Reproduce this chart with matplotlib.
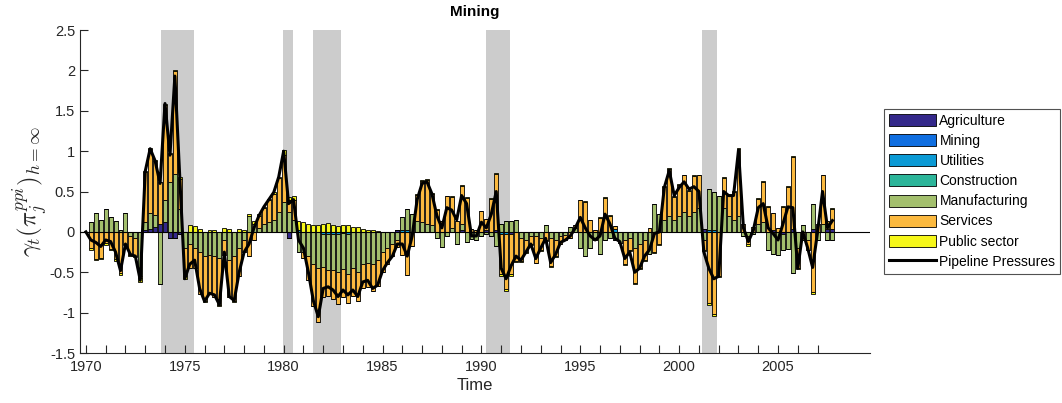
import numpy as np
import matplotlib.pyplot as plt
from matplotlib.patches import Patch
from matplotlib.lines import Line2D

plt.rcParams['font.family'] = ['Liberation Sans', 'DejaVu Sans']
plt.rcParams['mathtext.fontset'] = 'cm'

# quarterly dates, 1970Q1 .. 2007Q4
dates = np.arange(1970, 2008, 0.25)

# sector contributions, two years (8 quarters) per row
agriculture = [
    0.00, 0.00, 0.00, 0.00, 0.00, 0.00, 0.00, 0.00,
    0.00, 0.00, 0.00, 0.00, 0.02, 0.03, 0.06, 0.10,
    0.12, -0.08, -0.08, -0.03, 0.00, 0.00, 0.00, 0.00,
    0.00, 0.00, 0.00, 0.00, 0.00, 0.00, 0.00, 0.00,
    0.00, 0.00, 0.00, 0.00, 0.00, 0.00, 0.00, 0.00,
    0.00, -0.07, 0.00, 0.00, 0.00, 0.00, 0.00, 0.00,
    0.00, 0.00, 0.00, 0.00, 0.00, 0.00, 0.00, 0.00,
    0.00, 0.00, 0.00, 0.00, 0.00, 0.00, 0.00, 0.02,
    0.00, 0.00, 0.00, 0.00, 0.00, 0.00, 0.00, 0.00,
    0.00, 0.00, 0.00, 0.00, 0.02, 0.00, 0.00, 0.00,
    0.00, 0.02, 0.00, 0.02, 0.00, 0.00, -0.02, 0.00,
    0.00, 0.00, 0.00, 0.00, 0.00, 0.00, 0.00, 0.00,
    0.00, 0.00, 0.00, 0.00, 0.00, 0.00, 0.00, 0.00,
    0.00, 0.00, 0.00, 0.00, 0.00, 0.00, 0.00, 0.00,
    0.00, 0.00, 0.00, 0.00, 0.00, 0.00, 0.00, 0.00,
    0.00, 0.00, 0.00, 0.00, 0.00, 0.03, 0.00, 0.00,
    0.00, 0.00, 0.00, 0.00, 0.00, 0.00, 0.00, 0.00,
    0.00, 0.00, 0.00, 0.02, 0.00, -0.02, 0.00, 0.03,
    0.00, 0.00, 0.00, 0.03, 0.00, 0.00, 0.03, 0.03,
]
utilities = [
    0.00, 0.00, 0.00, 0.00, 0.00, 0.00, 0.00, 0.00,
    0.00, 0.00, 0.00, 0.00, 0.00, 0.00, 0.00, 0.00,
    0.00, 0.00, 0.00, 0.00, 0.00, 0.00, 0.00, 0.00,
    0.00, 0.00, 0.00, 0.00, 0.00, 0.00, 0.00, 0.00,
    0.00, 0.00, 0.00, 0.00, 0.00, 0.00, 0.00, 0.00,
    0.00, 0.00, 0.00, 0.02, 0.00, 0.00, 0.00, 0.00,
    -0.02, -0.02, -0.02, -0.02, -0.01, -0.02, 0.00, 0.00,
    0.00, 0.00, 0.00, 0.00, 0.00, 0.00, 0.00, 0.00,
    0.02, 0.02, 0.00, 0.00, 0.00, 0.00, 0.00, 0.00,
    0.00, 0.00, 0.00, 0.00, 0.00, 0.00, 0.00, 0.00,
    0.00, 0.00, 0.00, 0.00, -0.02, -0.02, 0.00, 0.00,
    0.00, 0.00, 0.00, 0.00, 0.00, 0.00, 0.00, 0.00,
    0.00, 0.00, 0.00, 0.00, 0.00, 0.00, 0.00, 0.00,
    0.00, 0.00, 0.00, 0.04, 0.00, 0.00, 0.00, 0.00,
    0.00, 0.00, 0.00, 0.00, 0.00, 0.00, 0.00, 0.00,
    0.00, 0.00, 0.00, 0.00, 0.00, 0.00, 0.02, 0.02,
    0.00, 0.00, 0.00, 0.00, 0.00, 0.00, 0.00, 0.00,
    0.00, 0.00, 0.00, 0.00, 0.00, 0.00, 0.00, 0.00,
    0.00, 0.00, 0.00, 0.00, 0.00, 0.00, 0.00, 0.00,
]
manufacturing = [
    0.00, 0.12, 0.23, 0.15, 0.28, 0.19, 0.13, 0.02,
    0.24, -0.05, -0.08, -0.55, 0.10, 0.20, 0.15, -0.65,
    0.27, 0.62, 0.72, 0.28, -0.20, -0.15, -0.20, -0.25,
    -0.30, -0.28, -0.30, -0.32, -0.10, -0.35, -0.30, -0.20,
    -0.10, 0.20, 0.10, 0.05, 0.10, 0.12, 0.15, 0.25,
    0.37, 0.25, 0.15, -0.25, -0.25, -0.30, -0.40, -0.45,
    -0.42, -0.45, -0.45, -0.48, -0.45, -0.50, -0.45, -0.50,
    -0.40, -0.38, -0.40, -0.35, -0.25, -0.20, -0.15, -0.10,
    0.16, 0.26, 0.22, 0.14, 0.12, 0.10, 0.08, -0.07,
    -0.19, -0.05, 0.05, -0.15, 0.08, -0.13, -0.09, -0.10,
    -0.05, -0.03, -0.05, -0.18, 0.10, 0.14, 0.13, 0.15,
    -0.08, -0.10, -0.05, -0.05, -0.08, 0.08, -0.08, -0.10,
    -0.05, -0.04, 0.06, 0.05, -0.20, -0.30, -0.20, -0.10,
    -0.27, -0.10, -0.07, -0.10, -0.14, -0.10, -0.08, -0.20,
    -0.15, -0.10, -0.27, 0.34, 0.22, 0.15, 0.20, 0.15,
    0.20, 0.25, 0.20, 0.25, 0.30, -0.10, 0.51, 0.48,
    0.45, 0.30, 0.20, 0.15, 0.20, -0.05, -0.05, -0.03,
    0.10, 0.12, -0.23, -0.27, -0.29, -0.21, -0.21, -0.51,
    -0.20, 0.08, -0.10, 0.31, -0.10, 0.10, -0.10, -0.10,
]
services = [
    0.00, -0.20, -0.33, -0.32, -0.14, -0.21, -0.34, -0.51,
    -0.15, -0.24, -0.22, -0.02, 0.62, 0.80, 0.67, 0.52,
    1.18, 0.35, 1.27, 0.38, -0.35, -0.30, -0.25, -0.52,
    -0.55, -0.48, -0.50, -0.58, -0.18, -0.45, -0.55, -0.35,
    -0.15, -0.30, -0.10, 0.15, 0.20, 0.27, 0.32, 0.42,
    0.58, 0.14, 0.24, 0.00, -0.07, -0.30, -0.52, -0.67,
    -0.37, -0.32, -0.36, -0.39, -0.35, -0.36, -0.34, -0.35,
    -0.29, -0.30, -0.33, -0.32, -0.25, -0.20, -0.15, -0.09,
    -0.29, -0.53, -0.18, 0.32, 0.51, 0.54, 0.39, 0.27,
    0.14, 0.44, 0.38, 0.14, 0.47, 0.42, 0.03, 0.02,
    0.26, 0.14, 0.41, 0.70, -0.50, -0.69, -0.50, -0.36,
    -0.28, -0.15, -0.10, -0.33, -0.15, -0.10, -0.34, -0.20,
    -0.10, -0.06, -0.08, 0.03, 0.39, 0.37, 0.15, 0.02,
    0.17, 0.42, 0.20, 0.03, 0.00, -0.30, -0.15, -0.43,
    -0.30, -0.25, 0.05, -0.25, -0.15, 0.41, 0.58, 0.28,
    0.38, 0.45, 0.31, 0.44, 0.40, -0.12, -0.88, -1.02,
    -0.54, 0.37, 0.25, 0.35, 0.83, 0.10, -0.10, 0.06,
    0.31, 0.50, 0.31, 0.22, 0.05, 0.31, 0.56, 0.90,
    -0.25, -0.10, -0.12, -0.75, 0.10, 0.60, 0.10, 0.25,
]
public_sector = [
    0.00, -0.02, -0.02, -0.02, -0.02, -0.02, -0.02, -0.02,
    -0.01, -0.01, -0.01, -0.05, 0.01, 0.01, 0.01, 0.00,
    0.02, 0.01, 0.02, 0.02, -0.03, 0.08, 0.07, 0.03,
    -0.02, 0.02, 0.02, -0.02, 0.05, 0.03, -0.02, 0.03,
    0.02, 0.02, 0.03, 0.02, 0.01, 0.02, 0.02, 0.01,
    0.06, 0.04, 0.05, 0.12, 0.12, 0.10, 0.08, 0.08,
    0.10, 0.11, 0.08, 0.07, 0.09, 0.08, 0.06, 0.06,
    0.04, 0.02, 0.02, 0.01, 0.00, 0.00, 0.00, 0.00,
    0.00, 0.00, 0.00, 0.01, 0.01, 0.01, 0.01, 0.01,
    0.00, 0.01, 0.01, 0.00, 0.01, 0.01, 0.00, 0.00,
    0.00, 0.00, 0.01, 0.01, -0.02, -0.02, -0.02, -0.01,
    -0.01, -0.01, -0.01, -0.01, -0.01, -0.01, -0.01, -0.01,
    0.00, 0.00, 0.00, 0.00, 0.01, 0.01, 0.00, 0.00,
    0.01, 0.01, 0.01, 0.00, 0.00, -0.01, -0.01, -0.02,
    -0.01, -0.01, 0.00, -0.01, -0.01, 0.01, 0.01, 0.01,
    0.01, 0.01, 0.01, 0.01, 0.01, -0.02, -0.02, -0.02,
    -0.02, 0.01, 0.01, 0.01, 0.01, 0.00, -0.02, 0.00,
    0.01, 0.01, 0.01, 0.00, 0.00, 0.01, 0.01, 0.01,
    -0.01, 0.00, -0.01, -0.02, 0.00, 0.01, 0.00, 0.01,
]
mining = [0.0] * 152
construction = [0.0] * 152

# pipeline pressures (black line)
pipeline = [
    0.00, -0.10, -0.13, -0.18, -0.10, -0.12, -0.25, -0.48,
    -0.15, -0.28, -0.30, -0.60, 0.75, 1.03, 0.88, 0.60,
    1.59, 0.95, 1.93, 0.66, -0.58, -0.40, -0.35, -0.70,
    -0.86, -0.76, -0.78, -0.90, -0.25, -0.80, -0.85, -0.50,
    -0.25, -0.15, 0.05, 0.20, 0.31, 0.40, 0.49, 0.68,
    1.00, 0.35, 0.40, -0.10, -0.20, -0.50, -0.85, -1.05,
    -0.70, -0.68, -0.72, -0.80, -0.72, -0.78, -0.72, -0.80,
    -0.62, -0.60, -0.70, -0.66, -0.48, -0.38, -0.30, -0.15,
    -0.15, -0.30, -0.05, 0.40, 0.60, 0.62, 0.47, 0.20,
    0.05, 0.30, 0.27, 0.15, 0.45, 0.35, -0.05, -0.05,
    0.12, 0.05, 0.22, 0.50, -0.45, -0.58, -0.42, -0.30,
    -0.35, -0.25, -0.15, -0.33, -0.20, -0.08, -0.38, -0.28,
    -0.13, -0.10, -0.05, 0.05, 0.18, 0.05, -0.05, -0.10,
    -0.05, 0.22, 0.10, -0.08, -0.12, -0.33, -0.25, -0.50,
    -0.45, -0.30, -0.22, -0.02, 0.00, 0.55, 0.76, 0.45,
    0.55, 0.62, 0.53, 0.56, 0.50, -0.25, -0.45, -0.58,
    -0.55, 0.50, 0.45, 0.45, 1.01, 0.05, -0.12, 0.02,
    0.30, 0.35, 0.05, -0.02, -0.10, 0.10, 0.31, 0.30,
    -0.45, 0.00, -0.20, -0.44, 0.00, 0.50, 0.05, 0.14,
]

recessions = [(1973.81, 1975.48), (1979.98, 1980.49), (1981.48, 1982.88),
              (1990.24, 1991.47), (2001.16, 2001.92)]

sector_names = ['Agriculture', 'Mining', 'Utilities', 'Construction',
                'Manufacturing', 'Services', 'Public sector']
sector_colors = ['#33288a', '#0f6ee0', '#0b9ad5', '#2cb59a',
                 '#a3bf6d', '#fbb93f', '#f6f719']

series = [agriculture, mining, utilities, construction,
          manufacturing, services, public_sector]
data = np.array(series, dtype=float)

fig = plt.figure(figsize=(10.62, 4.03), dpi=100)
ax = fig.add_axes([0.0753, 0.124, 0.7439, 0.8015])

for a, b in recessions:
    ax.axvspan(a, b, color='#cccccc', lw=0, zorder=0)

# stacked bars, positives up and negatives down (matlab style)
pos_base = np.zeros(len(dates))
neg_base = np.zeros(len(dates))
for vals, col in zip(data, sector_colors):
    pos = np.where(vals > 0, vals, 0)
    neg = np.where(vals < 0, vals, 0)
    ax.bar(dates, pos, width=0.2, bottom=pos_base, color=col,
           edgecolor='black', linewidth=0.6, zorder=2)
    ax.bar(dates, neg, width=0.2, bottom=neg_base, color=col,
           edgecolor='black', linewidth=0.6, zorder=2)
    pos_base += pos
    neg_base += neg

ax.plot(dates, pipeline, color='black', lw=2.2, zorder=4)
ax.axhline(0, color='black', lw=0.8, zorder=3)

ax.set_xlim(1969.7, 2009.65)
ax.set_ylim(-1.5, 2.5)
ax.set_xticks(np.arange(1970, 2008))
ax.set_xticklabels([str(y) if y % 5 == 0 else '' for y in range(1970, 2008)])
ax.set_yticks(np.arange(-1.5, 2.51, 0.5))
ax.set_yticklabels(['-1.5', '-1', '-0.5', '0', '0.5', '1', '1.5', '2', '2.5'])
ax.tick_params(direction='in', length=6, width=0.8, colors='#262626',
               labelsize=10.5)
ax.tick_params(axis='x', pad=5)
for side in ['top', 'right']:
    ax.spines[side].set_visible(False)
for side in ['left', 'bottom']:
    ax.spines[side].set_color('#262626')
    ax.spines[side].set_linewidth(0.8)

ax.set_title('Mining', fontsize=11, fontweight='bold', pad=10)
ax.set_xlabel('Time', fontsize=12, color='#262626', labelpad=3)
ax.set_ylabel(r'$\gamma_t(\pi_j^{ppi})_{h=\infty}$', fontsize=18,
              color='#262626', labelpad=0)

handles = [Patch(facecolor=c, edgecolor='black', linewidth=0.6)
           for c in sector_colors]
handles.append(Line2D([0], [0], color='black', lw=2.2))
labels = sector_names + ['Pipeline Pressures']
leg = fig.legend(handles, labels, loc='upper left',
                 bbox_to_anchor=(0.8323, 0.7295), fontsize=10,
                 frameon=True, fancybox=False, handlelength=3.4,
                 handleheight=0.95, handletextpad=0.25, labelspacing=0.44,
                 borderpad=0.35, borderaxespad=0)
leg.get_frame().set_edgecolor('#262626')
leg.get_frame().set_linewidth(0.8)

fig.savefig('out.png', dpi=100)
